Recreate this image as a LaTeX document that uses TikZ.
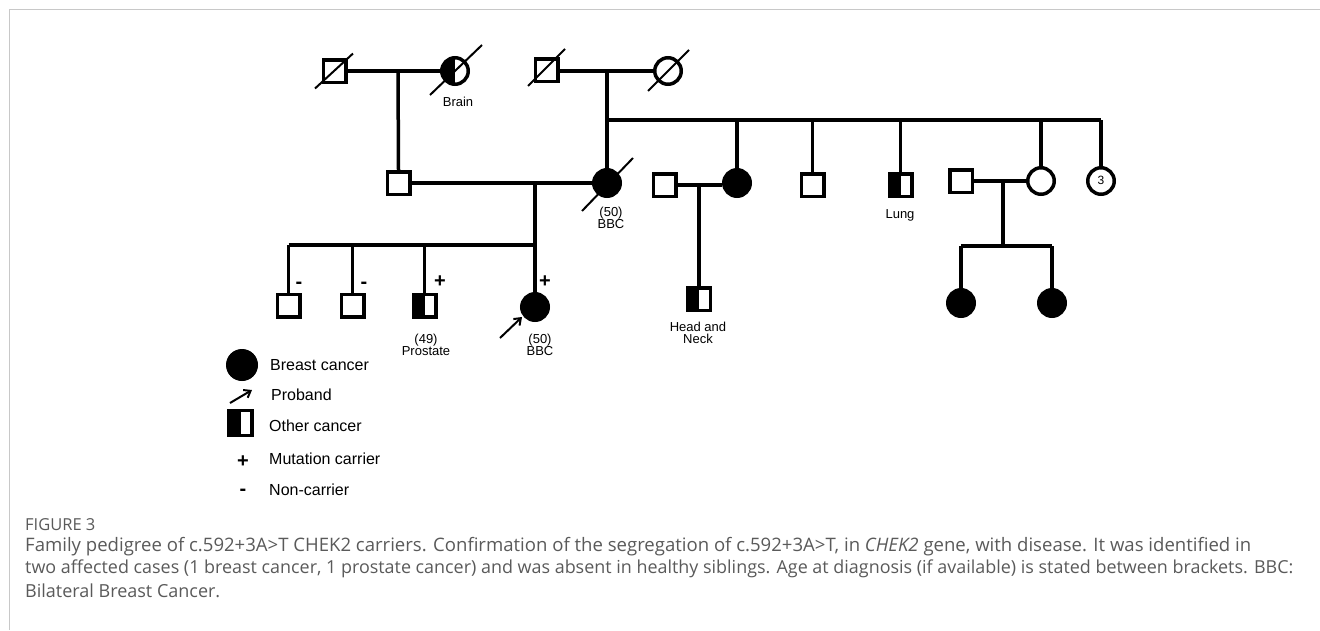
\documentclass[tikz,border=0pt]{standalone}
\usepackage{fontspec}
\usepackage{graphicx}
\setmainfont{Liberation Sans}
\newfontfamily\capfont{Open Sans}
\usetikzlibrary{calc,arrows.meta}
\definecolor{framegray}{HTML}{C8C8C8}
\definecolor{capgray}{HTML}{5A5A5A}
\tikzset{
  male/.style={draw, line width=3.5pt, rectangle, minimum size=22.5pt, inner sep=0pt, fill=white},
  female/.style={draw, line width=3.5pt, circle, minimum size=26.5pt, inner sep=0pt, fill=white},
  aff/.style={fill=black},
  half/.style={path picture={\fill[black] (path picture bounding box.south west) rectangle (path picture bounding box.north);}},
  conn/.style={line width=3.5pt},
  slash/.style={line width=2pt},
  lbl/.style={font=\fontsize{13}{14}\selectfont, inner sep=0pt, align=center},
  sign/.style={font=\bfseries\fontsize{20}{20}\selectfont, inner sep=0pt},
  legtxt/.style={font=\fontsize{16}{18}\selectfont, inner sep=0pt, anchor=west},
  proarrow/.style={line width=2pt, -{Straight Barb[length=6pt,width=9pt]}},
  captxt/.style={anchor=west, inner sep=0pt, text=capgray, font=\capfont\fontsize{18}{22}\selectfont},
}
\begin{document}
\begin{tikzpicture}[x=1pt,y=-1pt]
\useasboundingbox (0,0) rectangle (1320,630);
\fill[white] (0,0) rectangle (1320,630);
% frame
\draw[framegray, line width=1.5pt] (9.5,630) -- (9.5,9.5) -- (1320,9.5);

% ---------- Generation I ----------
\node[male] (gf1) at (334.5,71) {};
\node[female, half] (gm1) at (455,71) {};
\node[male] (gf2) at (546.5,70) {};
\node[female] (gm2) at (668,71) {};
\node[lbl] (tbrain) at (458,102) {Brain};

% ---------- Generation II ----------
\node[male] (f) at (398.5,183) {};
\node[female, aff] (m) at (607,183) {};
\node[male] (h1) at (664.5,185) {};
\node[female, aff] (a1) at (737,183) {};
\node[male] (u1) at (812.5,185) {};
\node[male, half] (u2) at (900.5,185) {};
\node[male] (h2) at (961,181) {};
\node[female] (a2) at (1041,181) {};
\node[female, font=\fontsize{12}{12}\selectfont] (a3) at (1101,181) {\raisebox{2pt}{3}};
\node[lbl] (tm) at (611,218) {(50)\\[-2pt]BBC};
\node[lbl] (tlung) at (900,215) {Lung};

% ---------- Generation III ----------
\node[male] (s1) at (288.5,305.5) {};
\node[male] (s2) at (352.5,305.5) {};
\node[male, half] (s3) at (424.5,305.5) {};
\node[female, aff] (p) at (535,307) {};
\node[male, half] (c1) at (699,299) {};
\node[female, aff] (d1) at (961,303) {};
\node[female, aff] (d2) at (1052,303) {};
\node[lbl] (ts3) at (426,345) {(49)\\[-2pt]Prostate};
\node[lbl] (tp) at (540,345) {(50)\\[-2pt]BBC};
\node[lbl] (tc1) at (698,333) {Head and\\[-2pt]Neck};
\node[sign] (m1) at (299,285) {-};
\node[sign] (m2) at (364,285) {-};
\node[sign] (m3) at (440,282) {+};
\node[sign] (m4) at (545,282) {+};

% ---------- connectors ----------
\coordinate (j1) at (398,71);
\coordinate (j2) at (607,71);
\coordinate (j3) at (607,120);
\coordinate (j3e) at (1101,120);
\coordinate (j4) at (535,183);
\coordinate (j5) at (535,245);
\coordinate (j5w) at (288.5,245);
\coordinate (j6) at (699,185);
\coordinate (j7) at (1003,181);
\coordinate (j8) at (1003,246);
\coordinate (j8w) at (961,246);
\coordinate (j8e) at (1052,246);

\draw[conn] (gf1.east) -- (gm1.west);
\draw[conn] (j1) -- (f.north);
\draw[conn] (gf2.east |- j2) -- (gm2.west);
\draw[conn] (j2) -- (m.north);
\draw[conn] (j3) -- (j3e);
\draw[conn] (a1.north |- j3) -- (a1.north);
\draw[conn] (u1.north |- j3) -- (u1.north);
\draw[conn] (u2.north |- j3) -- (u2.north);
\draw[conn] (a2.north |- j3) -- (a2.north);
\draw[conn] (a3.north |- j3) -- (a3.north);
\draw[conn] (f.east) -- (m.west);
\draw[conn] (j4) -- (j5);
\draw[conn] (j5w) -- (j5);
\draw[conn] (j5w) -- (s1.north);
\draw[conn] (s2.north |- j5) -- (s2.north);
\draw[conn] (s3.north |- j5) -- (s3.north);
\draw[conn] (j5) -- (p.north);
\draw[conn] (h1.east) -- (a1.west |- h1.east);
\draw[conn] (j6) -- (c1.north);
\draw[conn] (h2.east) -- (a2.west);
\draw[conn] (j7) -- (j8);
\draw[conn] (j8w) -- (j8e);
\draw[conn] (j8w) -- (d1.north);
\draw[conn] (j8e) -- (d2.north);

% deceased slashes
\draw[slash] ($(gf1)+(-19.5,17.5)$) -- ($(gf1)+(18.5,-17.5)$);
\draw[slash] ($(gm1)+(-25,24)$) -- ($(gm1)+(27,-26)$);
\draw[slash] ($(gf2)+(-18.5,16)$) -- ($(gf2)+(18.5,-21)$);
\draw[slash] ($(gm2)+(-20,20)$) -- ($(gm2)+(21,-21)$);
\draw[slash] ($(m)+(-25,28)$) -- ($(m)+(26,-25)$);

% proband arrow
\coordinate (pa) at (500,338);
\draw[proarrow] (pa) -- ($(p)+(-13,10)$);

% ---------- legend ----------
\node[draw, line width=1pt, circle, fill=black, minimum size=31pt, inner sep=0pt] (lc) at (242,365) {};
\node[legtxt] (lt1) at (270,365) {Breast cancer};
\coordinate (la0) at (230,403);
\coordinate (la1) at (252,390);
\draw[proarrow] (la0) -- (la1);
\node[legtxt] (lt2) at (271,395) {Proband};
\node[male, half, minimum width=23pt, minimum height=25pt] (ls) at (240.5,423) {};
\node[legtxt] (lt3) at (269,426) {Other cancer};
\node[sign] (lplus) at (243,462) {+};
\node[sign] (lminus) at (243,492) {-};
\node[legtxt] (lt4) at (269,459) {Mutation carrier};
\node[legtxt] (lt5) at (269,490) {Non-carrier};

% ---------- caption ----------
\node[anchor=west, inner sep=0pt, text=capgray, font=\capfont\fontsize{16.5}{18}\selectfont] (fig) at (25,525) {FIGURE 3};
\node[captxt] (cap1) at (25,547) {\resizebox{1226pt}{!}{Family pedigree of c.592+3A>T CHEK2 carriers. Confirmation of the segregation of c.592+3A>T, in \textit{CHEK2} gene, with disease. It was identified in}};
\node[captxt] (cap2) at (25,569) {\resizebox{1268pt}{!}{two affected cases (1 breast cancer, 1 prostate cancer) and was absent in healthy siblings. Age at diagnosis (if available) is stated between brackets. BBC:}};
\node[captxt] (cap3) at (25,591) {Bilateral Breast Cancer.};
\end{tikzpicture}
\end{document}
